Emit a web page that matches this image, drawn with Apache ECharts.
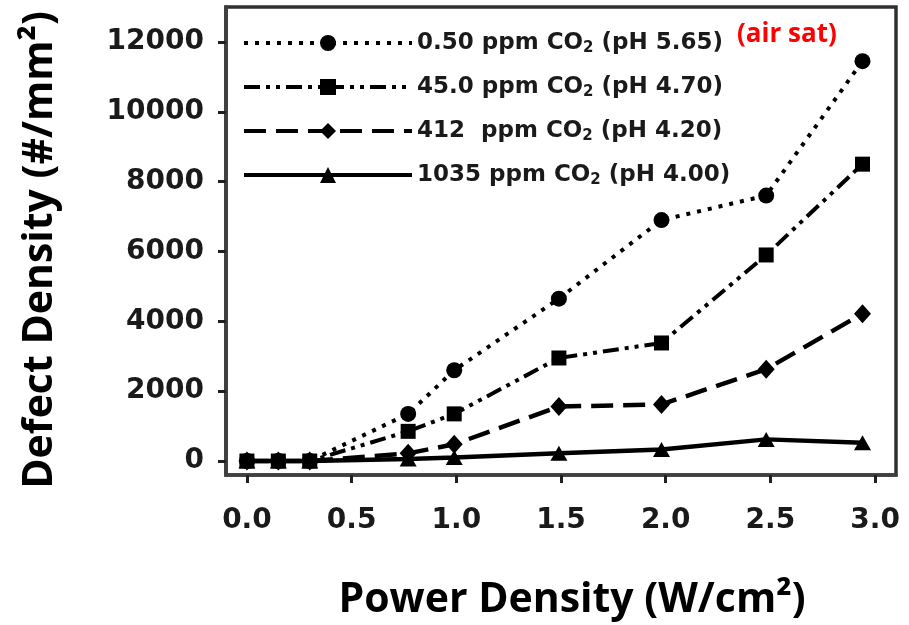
<!DOCTYPE html>
<html>
<head>
<meta charset="utf-8">
<script src="https://cdn.jsdelivr.net/npm/echarts@6/dist/echarts.min.js"></script>
<style>
html,body{margin:0;padding:0;background:#fff;}
#chart{width:909px;height:625px;}
</style>
</head>
<body>
<div id="chart"></div>
<script>
// Data
const powerDensity = [0, 0.15, 0.3, 0.77, 0.99, 1.49, 1.98, 2.48, 2.94];
const ppm050 = [0, 0, 0, 1350, 2600, 4650, 6900, 7600, 11450];
const ppm450 = [0, 0, 0, 850, 1350, 2950, 3380, 5900, 8500];
const ppm412 = [0, 0, 0, 220, 480, 1560, 1620, 2630, 4220];
const ppm1035 = [0, 0, 0, 60, 100, 220, 330, 620, 520];
const seriesNames = ['0.50 ppm CO2 (pH 5.65)', '45.0 ppm CO2 (pH 4.70)', '412  ppm CO2 (pH 4.20)', '1035 ppm CO2 (pH 4.00)'];
const xTicks = [0, 0.5, 1.0, 1.5, 2.0, 2.5, 3.0];
const yTicks = [0, 2000, 4000, 6000, 8000, 10000, 12000];

const pairs = arr => powerDensity.map((x, i) => [x, arr[i]]);
const chart = echarts.init(document.getElementById('chart'), null, {renderer: 'canvas'});
const tickFont = {fontFamily: 'DejaVu Sans', fontWeight: 'bold', fontSize: 28, color: '#1a1a1a'};
const lineBase = {color: '#000', width: 4};

chart.setOption({
  animation: false,
  backgroundColor: '#fff',
  grid: {left: 226, right: 13, top: 7, bottom: 150, show: true, borderColor: '#303030', borderWidth: 3.5, containLabel: false},
  xAxis: {
    type: 'value', min: -0.1, max: 3.1,
    axisLine: {show: true, onZero: false, lineStyle: {color: '#404040', width: 3.5}},
    axisTick: {show: true, customValues: xTicks, length: 8, lineStyle: {color: '#202020', width: 3}},
    axisLabel: Object.assign({customValues: xTicks, margin: 32, formatter: v => Number(v).toFixed(1)}, tickFont),
    splitLine: {show: false}
  },
  yAxis: {
    type: 'value', min: -400, max: 13000,
    axisLine: {show: true, onZero: false, lineStyle: {color: '#404040', width: 4}},
    axisTick: {show: true, customValues: yTicks, length: 8, lineStyle: {color: '#202020', width: 3}},
    axisLabel: Object.assign({customValues: yTicks, margin: 22, formatter: v => String(v)}, tickFont),
    splitLine: {show: false}
  },
  legend: {
    orient: 'vertical', left: 237, top: 23, itemWidth: 168, itemHeight: 20, itemGap: 16,
    data: seriesNames,
    lineStyle: {width: 4},
    formatter: name => {
      const i = name.indexOf('CO2');
      return '{a|' + name.slice(0, i + 2) + '}{s|2}{a|' + name.slice(i + 3) + '}';
    },
    textStyle: {
      color: '#1a1a1a',
      rich: {
        a: {fontFamily: 'DejaVu Sans', fontWeight: 'bold', fontSize: 23, lineHeight: 26, color: '#1a1a1a', verticalAlign: 'middle'},
        s: {fontFamily: 'DejaVu Sans', fontWeight: 'bold', fontSize: 15, lineHeight: 15, color: '#1a1a1a', verticalAlign: 'bottom', padding: [13, 0, 0, 0]}
      }
    }
  },
  graphic: [
    {type: 'text', left: 737, top: 22, style: {text: '(air sat)', fill: '#ff0000', font: 'bold 26px "Open Sans"'}},
    {type: 'text', x: 572, y: 600, style: {text: 'Power Density (W/cm²)', fill: '#000', font: 'bold 41px "Open Sans"', align: 'center', verticalAlign: 'middle'}},
    {type: 'text', x: 40, y: 250, rotation: Math.PI / 2, style: {text: 'Defect Density (#/mm²)', fill: '#000', font: 'bold 41px "Open Sans"', align: 'center', verticalAlign: 'middle'}}
  ],
  series: [
    {name: seriesNames[0], type: 'line', data: pairs(ppm050), symbol: 'circle', symbolSize: 16, z: 5,
     itemStyle: {color: '#000'}, lineStyle: Object.assign({}, lineBase, {type: [4, 7]})},
    {name: seriesNames[1], type: 'line', data: pairs(ppm450), symbol: 'rect', symbolSize: 15, z: 4,
     itemStyle: {color: '#000'}, lineStyle: Object.assign({}, lineBase, {type: [16, 6, 4, 6, 4, 6]})},
    {name: seriesNames[2], type: 'line', data: pairs(ppm412), symbol: 'diamond', symbolSize: [17, 19], z: 3,
     itemStyle: {color: '#000'}, lineStyle: Object.assign({}, lineBase, {width: 4.5, type: [22, 10]})},
    {name: seriesNames[3], type: 'line', data: pairs(ppm1035), symbol: 'triangle', symbolSize: [17, 15], z: 2,
     itemStyle: {color: '#000'}, lineStyle: Object.assign({}, lineBase, {width: 4.5, type: 'solid'})}
  ]
});
</script>
</body>
</html>
